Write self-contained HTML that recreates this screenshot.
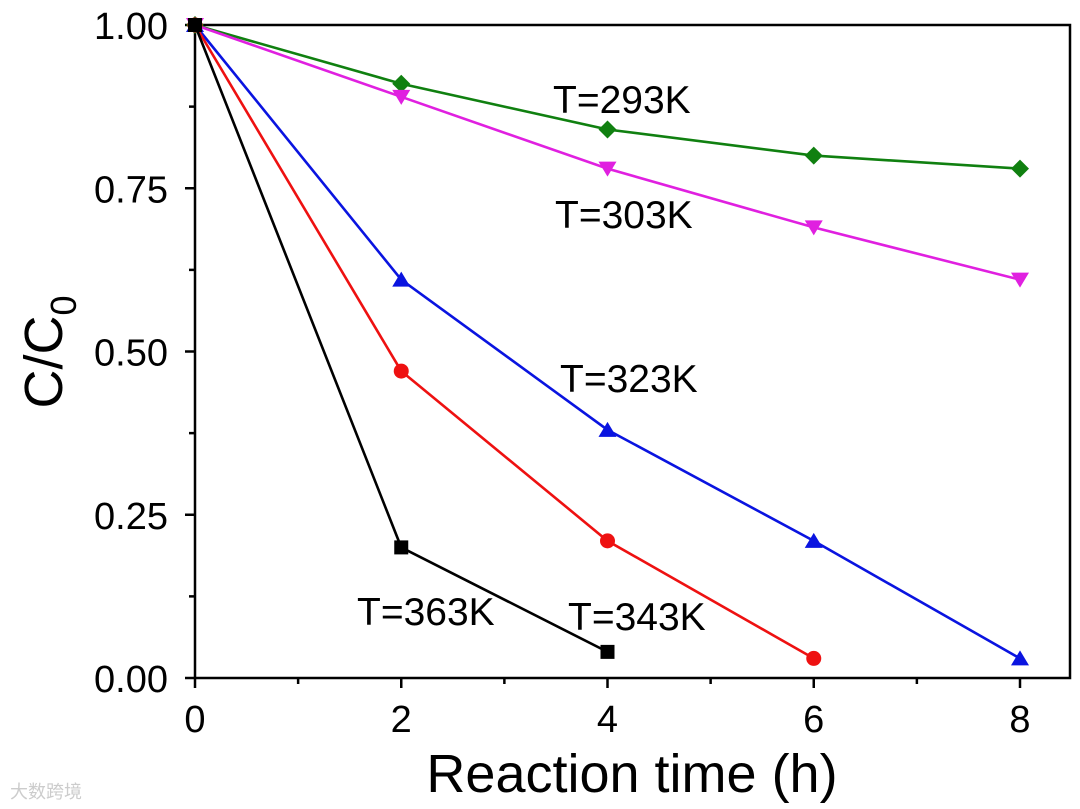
<!DOCTYPE html>
<html><head><meta charset="utf-8"><style>
body{margin:0;background:#fff}
svg{display:block;font-family:"Liberation Sans",Arial,sans-serif}
</style></head><body>
<svg id="chart" width="1080" height="809" viewBox="0 0 1080 809" xmlns="http://www.w3.org/2000/svg">
<rect x="0" y="0" width="1080" height="809" fill="#fff"/>
<g id="axes"></g>
<g id="series"></g>
<g id="labels"></g>
<text x="632" y="792" font-size="54" text-anchor="middle">Reaction time (h)</text>
<text transform="translate(62,352) rotate(-90)" font-size="54" text-anchor="middle">C/C<tspan font-size="36" dy="14">0</tspan></text>
<text x="10" y="798" font-size="18" fill="#ccc" font-family="'Liberation Sans','Noto Sans CJK SC',sans-serif">大数跨境</text>
</svg>
<script>
const xTicks=[0,2,4,6,8];
const yTicks=[0,0.25,0.5,0.75,1.0];
const yTickLabels=["0.00","0.25","0.50","0.75","1.00"];
const times=[0,2,4,6,8];
const s293=[1,0.91,0.84,0.80,0.78];
const s303=[1,0.89,0.78,0.69,0.61];
const s323=[1,0.61,0.38,0.21,0.03];
const s343=[1,0.47,0.21,0.03];
const s363=[1,0.20,0.04];
const seriesNames=["T=293K","T=303K","T=323K","T=343K","T=363K"];
const NS="http://www.w3.org/2000/svg";
const X0=195,X1=1070,Y0=25,Y1=678;
const xs=v=>195+v*103.125;
const ys=v=>678-v*653;
function mk(tag,attrs,parent){const e=document.createElementNS(NS,tag);for(const k in attrs)e.setAttribute(k,attrs[k]);parent.appendChild(e);return e;}
const ax=document.getElementById('axes');
let r=mk('rect',{x:X0,y:Y0,width:X1-X0,height:Y1-Y0,fill:'none',stroke:'#000','stroke-width':2.5},ax);


xTicks.forEach(t=>{
  let l=mk('line',{x1:xs(t),x2:xs(t),y1:Y1,y2:Y1+10,stroke:'#000','stroke-width':2.5},ax);
  
  
  let m=mk('line',{x1:xs(t+1),x2:xs(t+1),y1:Y1,y2:Y1+6,stroke:'#000','stroke-width':2.5},ax);
  
  
  let tx=mk('text',{x:xs(t),y:732,'font-size':38,'text-anchor':'middle'},ax);tx.textContent=t;
  
  
});
yTicks.forEach((t,i)=>{
  let l=mk('line',{x1:X0-10,x2:X0,y1:ys(t),y2:ys(t),stroke:'#000','stroke-width':2.5},ax);
  
  
  if(t<1){let m=mk('line',{x1:X0-6,x2:X0,y1:ys(t+0.125),y2:ys(t+0.125),stroke:'#000','stroke-width':2.5},ax);
  
  }
  let tx=mk('text',{x:X0-27,y:ys(t)+14,'font-size':38,'text-anchor':'end'},ax);tx.textContent=yTickLabels[i];
  
  
});
const sg=document.getElementById('series');
const defs=[[s293,'#108010','diamond'],[s303,'#e020e0','down'],[s323,'#0a14e0','up'],[s343,'#ee1111','circle'],[s363,'#000','square']];
defs.forEach(([d,c,shape],k)=>{
  const g=mk('g',{},sg);
  
  
  let p=mk('polyline',{points:d.map((v,i)=>xs(times[i])+','+ys(v)).join(' '),fill:'none',stroke:c,'stroke-width':2.6},g);
  
  
  d.forEach((v,i)=>{
    const x=xs(times[i]),y=ys(v);let m;
    if(shape==='diamond')m=mk('polygon',{points:`${x},${y-9} ${x+9},${y} ${x},${y+9} ${x-9},${y}`,fill:c},g);
    else if(shape==='down')m=mk('polygon',{points:`${x-9},${y-7} ${x+9},${y-7} ${x},${y+8}`,fill:c},g);
    else if(shape==='up')m=mk('polygon',{points:`${x-9},${y+7} ${x+9},${y+7} ${x},${y-8}`,fill:c},g);
    else if(shape==='circle')m=mk('circle',{cx:x,cy:y,r:7.5,fill:c},g);
    else m=mk('rect',{x:x-7,y:y-7,width:14,height:14,fill:c},g);
    
    
  });
});
const lg=document.getElementById('labels');
[["T=293K",553,113],["T=303K",555,228],["T=323K",560,392],["T=343K",568,630],["T=363K",357,625]].forEach(([t,x,y])=>{
  let tx=mk('text',{x:x,y:y,'font-size':39},lg);tx.textContent=t;
  
  
});
</script>
</body></html>
